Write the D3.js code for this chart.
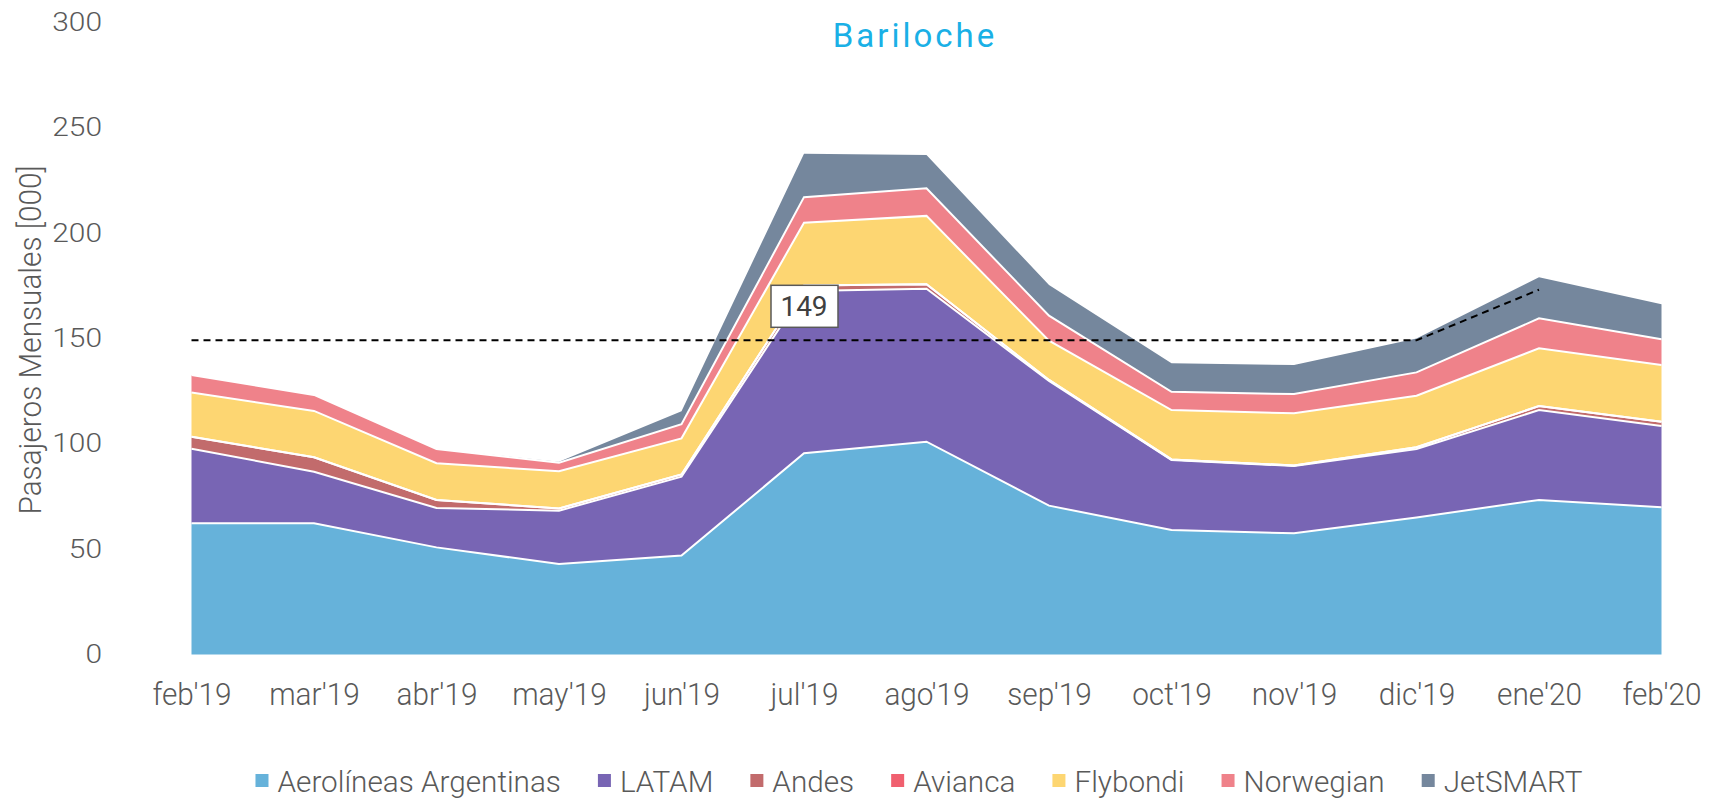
<!DOCTYPE html>
<html>
<head>
<meta charset="utf-8">
<script src="https://cdn.jsdelivr.net/npm/d3@7"></script>
<style>
  body { margin: 0; background: #fff; }
  text { font-family: Roboto, sans-serif; }
</style>
</head>
<body>
<svg width="1716" height="800"></svg>
<script>
// months on the x axis
const months = ["feb'19", "mar'19", "abr'19", "may'19", "jun'19", "jul'19", "ago'19",
  "sep'19", "oct'19", "nov'19", "dic'19", "ene'20", "feb'20"];

// monthly passengers [000] per airline
const aerolineas = [62.2, 62.2, 50.8, 42.9, 46.9, 95.4, 100.9, 70.6, 59.0, 57.5, 65.0, 73.3, 69.8];
const latam      = [35.4, 24.5, 18.7, 25.3, 37.4, 77.0, 72.6, 59.1, 33.2, 31.9, 32.5, 42.6, 38.6];
const andes      = [5.7, 6.8, 3.8, 1.0, 1.1, 2.6, 2.1, 0.5, 0.3, 0.2, 0.8, 1.9, 2.0];
const avianca    = [0, 0, 0, 0, 0, 0, 0, 0, 0, 0, 0, 0, 0];
const flybondi   = [20.9, 22.0, 17.4, 17.7, 17.1, 29.8, 32.4, 18.6, 23.4, 24.8, 24.4, 27.4, 26.9];
const norwegian  = [8.3, 7.6, 6.8, 4.1, 6.7, 12.1, 13.1, 11.9, 8.7, 9.1, 11.1, 14.2, 12.2];
const jetsmart   = [0, 0, 0, 0.4, 6.2, 20.6, 15.8, 14.5, 13.5, 13.8, 16.1, 19.5, 16.6];

// dashed reference line
const refLine = [149, 149, 149, 149, 149, 149, 149, 149, 149, 149, 149, 173];
const refLabel = '149';
const refLabelMonth = "jul'19";

const airlines = ['Aerolíneas Argentinas', 'LATAM', 'Andes', 'Avianca', 'Flybondi', 'Norwegian', 'JetSMART'];
const seriesValues = [aerolineas, latam, andes, avianca, flybondi, norwegian, jetsmart];
const colors = ['#66b2da', '#7865b4', '#c26b6c', '#f0606f', '#fdd672', '#ef828a', '#75879d'];

const yTicks = [0, 50, 100, 150, 200, 250, 300];

const svg = d3.select('svg');
const textColor = '#595959';
const squeeze = 0.96; // narrow look of the labels

// rows for d3.stack
const table = months.map((m, i) => {
  const row = { month: m };
  airlines.forEach((a, j) => { row[a] = seriesValues[j][i]; });
  return row;
});

const x = d3.scalePoint()
    .domain(months)
    .range([191.5, 1661.5]);

const y = d3.scaleLinear()
    .domain([0, 300])
    .range([654.5, 21.9]);

const stacked = d3.stack().keys(airlines)(table);

const area = d3.area()
    .x(d => x(d.data.month))
    .y0(d => y(d[0]))
    .y1(d => y(d[1]));

const topLine = d3.line()
    .x(d => x(d.data.month))
    .y(d => y(d[1]));

// areas
svg.append('g')
  .selectAll('path')
  .data(stacked)
  .join('path')
    .attr('d', area)
    .attr('fill', (d, i) => colors[i]);

// white borders between layers
svg.append('g')
  .selectAll('path')
  .data(stacked.slice(0, -1))
  .join('path')
    .attr('d', topLine)
    .attr('fill', 'none')
    .attr('stroke', '#fff')
    .attr('stroke-width', 2);

// dashed reference line
const refLineGen = d3.line()
    .x((d, i) => x(months[i]))
    .y(d => y(d));

svg.append('path')
    .attr('d', refLineGen(refLine))
    .attr('fill', 'none')
    .attr('stroke', '#000')
    .attr('stroke-width', 2)
    .attr('stroke-dasharray', '7,5');

// label box
const lab = svg.append('g')
    .attr('transform', `translate(${x(refLabelMonth)},${y(149) - 34})`);
lab.append('rect')
    .attr('x', -33).attr('y', -21)
    .attr('width', 67).attr('height', 42)
    .attr('fill', '#fff')
    .attr('stroke', '#595959')
    .attr('stroke-width', 1.5);
lab.append('text')
    .attr('text-anchor', 'middle')
    .attr('dy', '0.35em')
    .attr('font-size', 28)
    .attr('fill', '#404040')
    .text(refLabel);

// y axis
const yAxis = svg.append('g')
    .attr('transform', 'translate(102,0)')
    .call(d3.axisLeft(y).tickValues(yTicks).tickSize(0).tickPadding(0));
yAxis.select('.domain').remove();
yAxis.selectAll('text')
    .attr('font-family', 'Roboto, sans-serif')
    .attr('font-weight', 300)
    .attr('font-size', 26)
    .attr('fill', textColor)
    .attr('transform', 'scale(1.15,1)');

// x axis
const xAxis = svg.append('g')
    .attr('transform', 'translate(0,683)')
    .call(d3.axisBottom(x).tickSize(0).tickPadding(0));
xAxis.select('.domain').remove();
xAxis.selectAll('text')
    .attr('font-family', 'Roboto, sans-serif')
    .attr('font-weight', 300)
    .attr('font-size', 31)
    .attr('fill', textColor)
    .attr('transform', `scale(${squeeze},1)`);

// y title
svg.append('text')
    .attr('transform', `translate(30,340) rotate(-90) scale(${squeeze},1)`)
    .attr('text-anchor', 'middle')
    .attr('dy', '0.35em')
    .attr('font-weight', 300)
    .attr('font-size', 31)
    .attr('fill', textColor)
    .text('Pasajeros Mensuales [000]');

// chart title
svg.append('text')
    .attr('x', 915)
    .attr('y', 47)
    .attr('text-anchor', 'middle')
    .attr('font-family', '"DejaVu Sans", sans-serif')
    .attr('font-size', 33)
    .attr('letter-spacing', 3)
    .attr('fill', '#1ab0e6')
    .text('Bariloche');

// legend
const legend = svg.append('g').attr('transform', 'translate(0,781)');
const items = legend.selectAll('g')
  .data(airlines)
  .join('g');
items.append('rect')
    .attr('y', -7)
    .attr('width', 13).attr('height', 13)
    .attr('fill', (d, i) => colors[i]);
items.append('text')
    .attr('dy', '0.35em')
    .attr('font-weight', 300)
    .attr('font-size', 30)
    .attr('fill', textColor)
    .attr('transform', `translate(22,0) scale(0.99,1)`)
    .text(d => d);
// place items side by side, centred
const widths = [];
items.select('text').each(function () {
  widths.push(22 + this.getComputedTextLength() * 0.99);
});
const gap = 37;
const total = d3.sum(widths) + gap * (widths.length - 1);
let pos = 919 - total / 2;
items.attr('transform', (d, i) => {
  const p = pos;
  pos += widths[i] + gap;
  return `translate(${p},0)`;
});
</script>
</body>
</html>
